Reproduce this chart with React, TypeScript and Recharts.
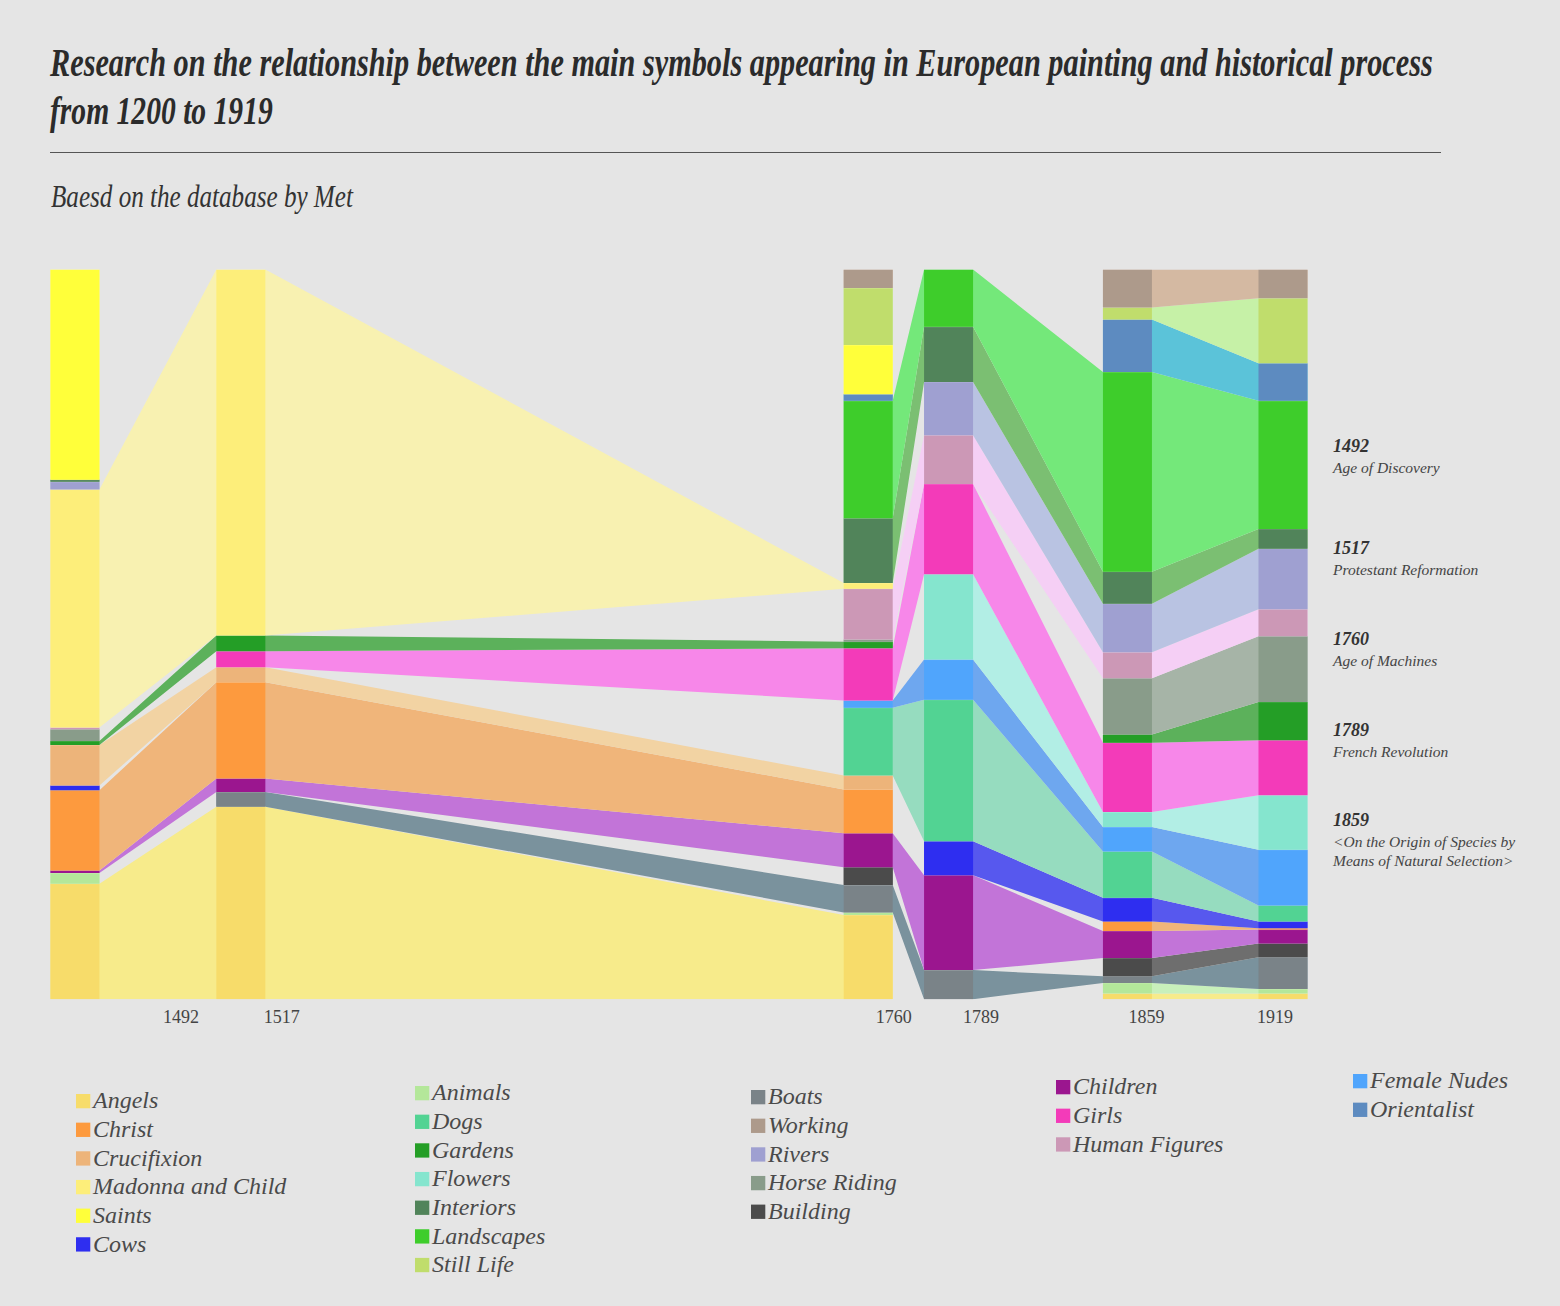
import React from 'react';
import { AreaChart, Area, XAxis, YAxis } from 'recharts';

// Categories, stacked bottom -> top
const CATEGORIES = [
  'Angels', 'Animals', 'Boats', 'Building', 'Children', 'Christ', 'Cows', 'Crucifixion',
  'Dogs', 'Female Nudes', 'Flowers', 'Girls', 'Gardens', 'Horse Riding', 'Human Figures',
  'Madonna and Child', 'Rivers', 'Interiors', 'Landscapes', 'Orientalist', 'Saints',
  'Still Life', 'Working',
];

// Timeline position of each column (years)
const COLUMN_YEARS = [1453, 1517, 1759, 1790, 1859, 1919];

// Share (%) of each symbol per column, same order as CATEGORIES
const COL_BEFORE_1492 = [15.85, 1.45, 0, 0, 0.35, 11.0, 0.65, 5.55, 0, 0, 0, 0, 0.55, 1.6, 0.25, 32.6, 1.05, 0.3, 0, 0, 28.8, 0, 0];
const COL_1517 = [26.4, 0, 2.0, 0, 1.85, 13.2, 0, 2.05, 0, 0, 0, 2.2, 2.15, 0, 0, 50.15, 0, 0, 0, 0, 0, 0, 0];
const COL_1760 = [11.55, 0.35, 3.75, 2.45, 4.65, 6.0, 0, 1.9, 9.3, 1.0, 0, 7.15, 0.9, 0.3, 6.95, 0.8, 0, 8.85, 16.1, 0.9, 6.75, 7.8, 2.55];
const COL_1789 = [0, 0, 4.0, 0, 13.0, 0, 4.65, 0, 19.4, 5.5, 11.7, 12.35, 0, 0, 6.7, 0, 7.3, 7.55, 7.85, 0, 0, 0, 0];
const COL_1859 = [0.8, 1.45, 0.9, 2.5, 3.7, 1.3, 3.25, 0, 6.35, 3.35, 2.05, 9.5, 1.15, 7.7, 3.55, 0, 6.65, 4.4, 27.35, 7.2, 0, 1.65, 5.2];
const COL_1919 = [0.8, 0.6, 4.35, 1.9, 1.9, 0.2, 0.9, 0, 2.2, 7.65, 7.45, 7.55, 5.25, 9.0, 3.7, 0, 8.3, 2.7, 17.55, 5.15, 0, 8.9, 3.95];
const COLUMN_VALUES = [COL_BEFORE_1492, COL_1517, COL_1760, COL_1789, COL_1859, COL_1919];

// Axis tick labels
const TICK_YEARS = [1492, 1517, 1760, 1789, 1859, 1919];

// Right-hand annotations
const EVENT_YEARS = ['1492', '1517', '1760', '1789', '1859'];
const EVENT_NAMES = [
  ['Age of Discovery'],
  ['Protestant Reformation'],
  ['Age of Machines'],
  ['French Revolution'],
  ['<On the Origin of Species by', 'Means of Natural Selection>'],
];

// Legend columns
const LEGEND_A = ['Angels', 'Christ', 'Crucifixion', 'Madonna and Child', 'Saints', 'Cows'];
const LEGEND_B = ['Animals', 'Dogs', 'Gardens', 'Flowers', 'Interiors', 'Landscapes', 'Still Life'];
const LEGEND_C = ['Boats', 'Working', 'Rivers', 'Horse Riding', 'Building'];
const LEGEND_D = ['Children', 'Girls', 'Human Figures'];
const LEGEND_E = ['Female Nudes', 'Orientalist'];

// ---------- styles ----------
const BAR_COLORS: Record<string, string> = {
  'Angels': '#f7dc6a', 'Animals': '#b4e79a', 'Boats': '#7a8388', 'Building': '#4b4b4b',
  'Children': '#9b168f', 'Christ': '#fd9a3e', 'Cows': '#2e2ef0', 'Crucifixion': '#edb47a',
  'Dogs': '#52d393', 'Female Nudes': '#50a5fc', 'Flowers': '#85e5ce', 'Girls': '#f33bb9',
  'Gardens': '#249e26', 'Horse Riding': '#899c8a', 'Human Figures': '#cc98b6',
  'Madonna and Child': '#fdee7a', 'Rivers': '#9fa0d1', 'Interiors': '#51845a',
  'Landscapes': '#3ecd2b', 'Orientalist': '#5d8bc0', 'Saints': '#ffff3a',
  'Still Life': '#c0dd6c', 'Working': '#ad9a8b',
};
const RIBBON_COLORS: Record<string, string> = {
  'Angels': '#f7eb8b', 'Animals': '#c8f0bb', 'Boats': '#7a929d', 'Building': '#6e6e6e',
  'Children': '#c274d8', 'Christ': '#f0b57a', 'Cows': '#5758ee', 'Crucifixion': '#f2d3a3',
  'Dogs': '#96dcbf', 'Female Nudes': '#6ea7ef', 'Flowers': '#b2eee5', 'Girls': '#f787e9',
  'Gardens': '#5cb15b', 'Horse Riding': '#a6b4a7', 'Human Figures': '#f5cff5',
  'Madonna and Child': '#f8f1b1', 'Rivers': '#b9c3e2', 'Interiors': '#7bbf72',
  'Landscapes': '#74e87a', 'Orientalist': '#5bc3d9', 'Saints': '#fffa9a',
  'Still Life': '#c6f1a7', 'Working': '#d4b9a2',
};
const TICK_DX: Record<number, number> = { 1492: 5, 1517: 41, 1760: 23, 1789: 35, 1859: 19, 1919: -8 };
const HALF_WIDTH = 9.45; // half column width in timeline units
const BG = '#e5e5e5';
const FONT = "'Liberation Serif', 'Times New Roman', serif";

const key = (i: number) => `k${i}`;

function buildRow(x: number, values: number[] | null) {
  const row: Record<string, number | null> = { x };
  CATEGORIES.forEach((_, i) => {
    const v = values ? values[i] : 0;
    row[key(i)] = v > 0 ? v : null;
  });
  return row;
}

const ribbonData = COLUMN_YEARS.flatMap((year, ci) => [
  buildRow(year - HALF_WIDTH, COLUMN_VALUES[ci]),
  buildRow(year + HALF_WIDTH, COLUMN_VALUES[ci]),
]);

const barData = COLUMN_YEARS.flatMap((year, ci) => {
  const rows = [
    buildRow(year - HALF_WIDTH, COLUMN_VALUES[ci]),
    buildRow(year + HALF_WIDTH, COLUMN_VALUES[ci]),
  ];
  if (ci < COLUMN_YEARS.length - 1) rows.push(buildRow((year + COLUMN_YEARS[ci + 1]) / 2, null));
  return rows;
});

const CHART_W = 1560;
const CHART_H = 1040;
const MARGIN = { top: 269.5, right: 248.5, bottom: 10.7, left: 41.24 };
const X_DOMAIN: [number, number] = [1440, 1930];

function YearTick(props: any) {
  const { x, y, payload } = props;
  return (
    <text x={x + (TICK_DX[payload.value] || 0)} y={y + 24} textAnchor="middle"
      fontFamily={FONT} fontSize={18} fill="#444">
      {payload.value}
    </text>
  );
}

function LegendColumn({ items, x, top }: { items: string[]; x: number; top: number }) {
  const step = 28.65;
  return (
    <g>
      {items.map((name, i) => (
        <g key={name}>
          <rect x={x} y={top + i * step} width={14.3} height={14.3} fill={BAR_COLORS[name]} />
          <text x={x + 17} y={top + i * step + 14.3} fontFamily={FONT} fontStyle="italic"
            fontSize={24} fill="#4a4a4a">{name}</text>
        </g>
      ))}
    </g>
  );
}

const EVENT_BASELINES = [452, 554, 645, 736, 826];

export default function App() {
  return (
    <div style={{ position: 'absolute', left: 0, top: 0, width: 1560, height: 1306, background: BG, overflow: 'hidden' }}>
      <svg width={1560} height={1306} style={{ position: 'absolute', left: 0, top: 0 }}>
        <g transform="translate(50 76) scale(0.757 1)">
          <text x={0} y={0} fontFamily={FONT} fontStyle="italic" fontWeight="bold" fontSize={40} fill="#2b2b2b">
            Research on the relationship between the main symbols appearing in European painting and historical process
          </text>
        </g>
        <g transform="translate(50 124) scale(0.74 1)">
          <text x={0} y={0} fontFamily={FONT} fontStyle="italic" fontWeight="bold" fontSize={40} fill="#2b2b2b">
            from 1200 to 1919
          </text>
        </g>
        <line x1={50} x2={1441} y1={152.5} y2={152.5} stroke="#555" strokeWidth={1.2} />
        <g transform="translate(51 206.5) scale(0.785 1)">
          <text x={0} y={0} fontFamily={FONT} fontStyle="italic" fontSize={32} fill="#333">
            Baesd on the database by Met
          </text>
        </g>

        {EVENT_YEARS.map((yr, i) => (
          <g key={yr}>
            <text x={1333} y={EVENT_BASELINES[i]} fontFamily={FONT} fontStyle="italic" fontWeight="bold"
              fontSize={18} fill="#333">{yr}</text>
            {EVENT_NAMES[i].map((line, j) => (
              <text key={j} x={1333} y={EVENT_BASELINES[i] + 21 + j * 19} fontFamily={FONT} fontStyle="italic"
                fontSize={15.5} fill="#444">{line}</text>
            ))}
          </g>
        ))}

        <LegendColumn items={LEGEND_A} x={76} top={1094} />
        <LegendColumn items={LEGEND_B} x={415} top={1086} />
        <LegendColumn items={LEGEND_C} x={751} top={1090} />
        <LegendColumn items={LEGEND_D} x={1056} top={1080} />
        <LegendColumn items={LEGEND_E} x={1353} top={1074} />
      </svg>

      {/* ribbons between columns */}
      <div style={{ position: 'absolute', left: 0, top: 0 }}>
        <AreaChart width={CHART_W} height={CHART_H} data={ribbonData} margin={MARGIN}>
          <XAxis dataKey="x" type="number" domain={X_DOMAIN} allowDataOverflow height={30}
            tick={false} axisLine={false} tickLine={false} />
          <YAxis hide type="number" domain={[0, 100]} allowDataOverflow />
          {CATEGORIES.map((c, i) => (
            <Area key={c} dataKey={key(i)} stackId="r" type="linear" fill={RIBBON_COLORS[c]}
              fillOpacity={1} stroke="none" dot={false} activeDot={false} isAnimationActive={false} />
          ))}
        </AreaChart>
      </div>

      {/* columns */}
      <div style={{ position: 'absolute', left: 0, top: 0 }}>
        <AreaChart width={CHART_W} height={CHART_H} data={barData} margin={MARGIN}>
          <XAxis dataKey="x" type="number" domain={X_DOMAIN} allowDataOverflow height={30}
            ticks={TICK_YEARS} interval={0} tick={<YearTick />} axisLine={false} tickLine={false}
            tickSize={0} tickMargin={0} />
          <YAxis hide type="number" domain={[0, 100]} allowDataOverflow />
          {CATEGORIES.map((c, i) => (
            <Area key={c} dataKey={key(i)} stackId="b" type="linear" fill={BAR_COLORS[c]}
              fillOpacity={1} stroke="#ffffff" strokeOpacity={0.25} strokeWidth={1}
              dot={false} activeDot={false} isAnimationActive={false} />
          ))}
        </AreaChart>
      </div>
    </div>
  );
}
